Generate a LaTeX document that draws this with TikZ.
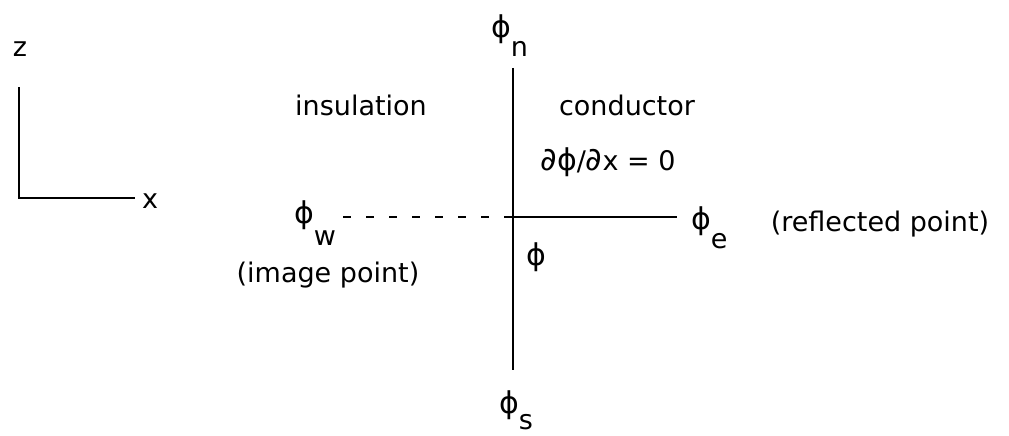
\documentclass[tikz,border=0pt]{standalone}
\usepackage{fontspec}
\setmainfont{DejaVu Sans}
\newcommand\myphi{{\fontsize{30}{30}\selectfont ϕ}}
\newcommand\mypd{{\fontsize{32}{32}\selectfont ∂}}
\begin{document}
\begin{tikzpicture}[x=1pt,y=-1pt,
  lbl/.style={inner sep=0pt, font=\fontsize{27}{30}\selectfont},
  ln/.style={line width=2pt, line cap=butt},
  dsh/.style={line width=2pt, dash pattern=on 8pt off 15pt}]
\useasboundingbox (0,0) rectangle (1009,436);
% coordinate axes
\node[lbl, anchor=base] (z) at (20,57) {z};
\node[lbl, anchor=base] (x) at (150,208) {x};
\coordinate (ztop) at (19,87);
\coordinate (org) at (19,198);
\coordinate (xend) at (135,198);
\draw[ln] (ztop) -- (org) -- (xend);
% main cross
\coordinate (top) at (513,68);
\coordinate (bot) at (513,370);
\coordinate (P) at (513,217);
\coordinate (E) at (677,217);
\coordinate (W) at (343,217);
\draw[ln] (top) -- (bot);
\draw[ln] (P) -- (E);
\draw[dsh] (W) -- (P);
% labels
\node[lbl, anchor=base west] (phin) at (491,38) {\myphi\raisebox{-19pt}{n}};
\node[lbl, anchor=base west] (phis) at (499,413) {\myphi\raisebox{-16pt}{s}};
\node[lbl, anchor=base west] (phiw) at (294,223) {\myphi\raisebox{-22pt}{w}};
\node[lbl, anchor=base west] (phie) at (691,229) {\myphi\raisebox{-19pt}{e}};
\node[lbl, anchor=base west] (phi) at (526,265) {\myphi};
\node[lbl, anchor=base] (ins) at (361,115) {insulation};
\node[lbl, anchor=base] (cond) at (627,115) {conductor};
\node[lbl, anchor=base] (bc) at (608,170) {\mypd\myphi/\mypd x = 0};
\node[lbl, anchor=base] (img) at (328,282) {(image point)};
\node[lbl, anchor=base] (refl) at (880,231) {(reflected point)};
\end{tikzpicture}
\end{document}
